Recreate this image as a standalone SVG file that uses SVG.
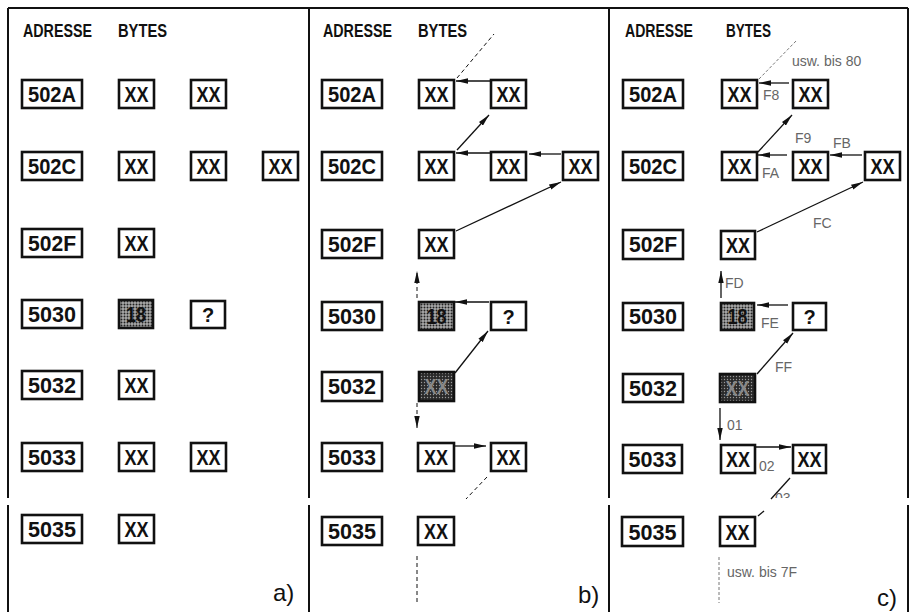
<svg xmlns="http://www.w3.org/2000/svg" width="914" height="612" viewBox="0 0 914 612">
<style>
.frame{stroke:#111;stroke-width:2;fill:none}
.box{fill:#fff;stroke:#111;stroke-width:2.6}
.t{font-family:"Liberation Sans",Arial,sans-serif;font-size:22px;font-weight:bold;fill:#111;text-anchor:middle}
.h{font-family:"Liberation Sans",Arial,sans-serif;font-size:18px;font-weight:bold;fill:#111}
.lab{font-family:"Liberation Sans",Arial,sans-serif;font-size:14px;fill:#666}
.pl{font-family:"Liberation Sans",Arial,sans-serif;font-size:24px;fill:#111}
.c{stroke:#111;stroke-width:1.3;fill:none}
.d{stroke:#111;stroke-width:1;fill:none;stroke-dasharray:4 3}
.dg{stroke:#777;stroke-width:1;fill:none;stroke-dasharray:3 2}
.a{marker-end:url(#ah)}
.lt{fill:url(#lt)}
.dk{fill:url(#dk)}
</style>
<defs>
<marker id="ah" markerWidth="13" markerHeight="6" refX="12" refY="3" orient="auto" markerUnits="userSpaceOnUse">
<path d="M0,0.3 L12,3 L0,5.7 z" fill="#111"/>
</marker>
<pattern id="lt" width="3" height="3" patternUnits="userSpaceOnUse">
<rect width="3" height="3" fill="#aaa"/>
<circle cx="1.5" cy="1.5" r="1" fill="#222"/>
</pattern>
<pattern id="dk" width="3" height="3" patternUnits="userSpaceOnUse">
<rect width="3" height="3" fill="#2a2a2a"/>
<circle cx="1.5" cy="1.5" r="0.7" fill="#999"/>
</pattern>
<clipPath id="cut03"><rect x="760" y="485" width="60" height="13"/></clipPath>
</defs>

<g id="frame">
<line class="frame" x1="8" y1="8" x2="908" y2="8"/>
<line class="frame" x1="8" y1="8" x2="8" y2="498"/><line class="frame" x1="8" y1="505" x2="8" y2="612"/>
<line class="frame" x1="309" y1="8" x2="309" y2="498"/><line class="frame" x1="309" y1="505" x2="309" y2="612"/>
<line class="frame" x1="609" y1="8" x2="609" y2="498"/><line class="frame" x1="609" y1="505" x2="609" y2="612"/>
<line class="frame" x1="908" y1="8" x2="908" y2="498"/><line class="frame" x1="908" y1="505" x2="908" y2="612"/>
</g>

<!-- Panel a -->
<g id="panel-a">
<text class="h" x="23" y="37" textLength="69" lengthAdjust="spacingAndGlyphs">ADRESSE</text>
<text class="h" x="118" y="37" textLength="49" lengthAdjust="spacingAndGlyphs">BYTES</text>
<g id="a-502A"><rect class="box" x="22" y="80" width="60" height="28"/><text class="t" x="52" y="102" textLength="48" lengthAdjust="spacingAndGlyphs">502A</text></g>
<g id="a-502A-b1"><rect class="box" x="119" y="80" width="35" height="28"/><text class="t" x="136.5" y="102" textLength="24" lengthAdjust="spacingAndGlyphs">XX</text></g>
<g id="a-502A-b2"><rect class="box" x="191" y="80" width="35" height="28"/><text class="t" x="208.5" y="102" textLength="24" lengthAdjust="spacingAndGlyphs">XX</text></g>
<g id="a-502C"><rect class="box" x="22" y="152" width="60" height="28"/><text class="t" x="52" y="174" textLength="48" lengthAdjust="spacingAndGlyphs">502C</text></g>
<g id="a-502C-b1"><rect class="box" x="119" y="152" width="35" height="28"/><text class="t" x="136.5" y="174" textLength="24" lengthAdjust="spacingAndGlyphs">XX</text></g>
<g id="a-502C-b2"><rect class="box" x="191" y="152" width="35" height="28"/><text class="t" x="208.5" y="174" textLength="24" lengthAdjust="spacingAndGlyphs">XX</text></g>
<g id="a-502C-b3"><rect class="box" x="263" y="152" width="35" height="28"/><text class="t" x="280.5" y="174" textLength="24" lengthAdjust="spacingAndGlyphs">XX</text></g>
<g id="a-502F"><rect class="box" x="22" y="229" width="60" height="28"/><text class="t" x="52" y="251" textLength="48" lengthAdjust="spacingAndGlyphs">502F</text></g>
<g id="a-502F-b1"><rect class="box" x="119" y="229" width="35" height="28"/><text class="t" x="136.5" y="251" textLength="24" lengthAdjust="spacingAndGlyphs">XX</text></g>
<g id="a-5030"><rect class="box" x="22" y="300" width="60" height="28"/><text class="t" x="52" y="322" textLength="48" lengthAdjust="spacingAndGlyphs">5030</text></g>
<g id="a-5030-b1"><rect class="box lt" x="119" y="300" width="34" height="28"/><text class="t" x="136" y="322" textLength="20" lengthAdjust="spacingAndGlyphs">18</text></g>
<g id="a-5030-b2"><rect class="box" x="191" y="301" width="34" height="27"/><text class="t" x="208" y="322" style="font-size:20px">?</text></g>
<g id="a-5032"><rect class="box" x="22" y="371" width="60" height="28"/><text class="t" x="52" y="393" textLength="48" lengthAdjust="spacingAndGlyphs">5032</text></g>
<g id="a-5032-b1"><rect class="box" x="119" y="371" width="35" height="28"/><text class="t" x="136.5" y="393" textLength="24" lengthAdjust="spacingAndGlyphs">XX</text></g>
<g id="a-5033"><rect class="box" x="22" y="443" width="60" height="28"/><text class="t" x="52" y="465" textLength="48" lengthAdjust="spacingAndGlyphs">5033</text></g>
<g id="a-5033-b1"><rect class="box" x="119" y="443" width="35" height="28"/><text class="t" x="136.5" y="465" textLength="24" lengthAdjust="spacingAndGlyphs">XX</text></g>
<g id="a-5033-b2"><rect class="box" x="191" y="443" width="35" height="28"/><text class="t" x="208.5" y="465" textLength="24" lengthAdjust="spacingAndGlyphs">XX</text></g>
<g id="a-5035"><rect class="box" x="22" y="515" width="60" height="28"/><text class="t" x="52" y="537" textLength="48" lengthAdjust="spacingAndGlyphs">5035</text></g>
<g id="a-5035-b1"><rect class="box" x="119" y="515" width="35" height="28"/><text class="t" x="136.5" y="537" textLength="24" lengthAdjust="spacingAndGlyphs">XX</text></g>
<text class="pl" x="273" y="601">a)</text>
</g>

<!-- Panel b -->
<g id="panel-b">
<text class="h" x="323" y="37" textLength="69" lengthAdjust="spacingAndGlyphs">ADRESSE</text>
<text class="h" x="418" y="37" textLength="49" lengthAdjust="spacingAndGlyphs">BYTES</text>
<g id="b-502A"><rect class="box" x="322" y="80" width="60" height="28"/><text class="t" x="352" y="102" textLength="48" lengthAdjust="spacingAndGlyphs">502A</text></g>
<g id="b-502A-b1"><rect class="box" x="419" y="80" width="35" height="28"/><text class="t" x="436.5" y="102" textLength="24" lengthAdjust="spacingAndGlyphs">XX</text></g>
<g id="b-502A-b2"><rect class="box" x="491" y="80" width="35" height="28"/><text class="t" x="508.5" y="102" textLength="24" lengthAdjust="spacingAndGlyphs">XX</text></g>
<g id="b-502C"><rect class="box" x="322" y="152" width="60" height="28"/><text class="t" x="352" y="174" textLength="48" lengthAdjust="spacingAndGlyphs">502C</text></g>
<g id="b-502C-b1"><rect class="box" x="419" y="152" width="35" height="28"/><text class="t" x="436.5" y="174" textLength="24" lengthAdjust="spacingAndGlyphs">XX</text></g>
<g id="b-502C-b2"><rect class="box" x="491" y="152" width="35" height="28"/><text class="t" x="508.5" y="174" textLength="24" lengthAdjust="spacingAndGlyphs">XX</text></g>
<g id="b-502C-b3"><rect class="box" x="563" y="152" width="35" height="28"/><text class="t" x="580.5" y="174" textLength="24" lengthAdjust="spacingAndGlyphs">XX</text></g>
<g id="b-502F"><rect class="box" x="322" y="230" width="60" height="28"/><text class="t" x="352" y="252" textLength="48" lengthAdjust="spacingAndGlyphs">502F</text></g>
<g id="b-502F-b1"><rect class="box" x="419" y="230" width="35" height="28"/><text class="t" x="436.5" y="252" textLength="24" lengthAdjust="spacingAndGlyphs">XX</text></g>
<g id="b-5030"><rect class="box" x="322" y="302" width="60" height="28"/><text class="t" x="352" y="324" textLength="48" lengthAdjust="spacingAndGlyphs">5030</text></g>
<g id="b-5030-b1"><rect class="box lt" x="419" y="302" width="35" height="28"/><text class="t" x="436.5" y="324" textLength="20" lengthAdjust="spacingAndGlyphs">18</text></g>
<g id="b-5030-b2"><rect class="box" x="491" y="302" width="35" height="28"/><text class="t" x="508.5" y="324" style="font-size:20px">?</text></g>
<g id="b-5032"><rect class="box" x="322" y="372" width="60" height="29"/><text class="t" x="352" y="394" textLength="48" lengthAdjust="spacingAndGlyphs">5032</text></g>
<g id="b-5032-b1"><rect class="box dk" x="419" y="372" width="35" height="29"/><text class="t" x="436.5" y="394" textLength="24" lengthAdjust="spacingAndGlyphs" style="fill:#888">XX</text></g>
<g id="b-5033"><rect class="box" x="322" y="443" width="60" height="28"/><text class="t" x="352" y="465" textLength="48" lengthAdjust="spacingAndGlyphs">5033</text></g>
<g id="b-5033-b1"><rect class="box" x="418" y="443" width="36" height="28"/><text class="t" x="436" y="465" textLength="24" lengthAdjust="spacingAndGlyphs">XX</text></g>
<g id="b-5033-b2"><rect class="box" x="491" y="443" width="35" height="28"/><text class="t" x="508.5" y="465" textLength="24" lengthAdjust="spacingAndGlyphs">XX</text></g>
<g id="b-5035"><rect class="box" x="322" y="517" width="60" height="28"/><text class="t" x="352" y="539" textLength="48" lengthAdjust="spacingAndGlyphs">5035</text></g>
<g id="b-5035-b1"><rect class="box" x="418" y="517" width="36" height="28"/><text class="t" x="436" y="539" textLength="24" lengthAdjust="spacingAndGlyphs">XX</text></g>
<text class="pl" x="578" y="603">b)</text>
</g>

<!-- Panel c -->
<g id="panel-c">
<text class="h" x="625" y="37" textLength="68" lengthAdjust="spacingAndGlyphs">ADRESSE</text>
<text class="h" x="726" y="37" textLength="45" lengthAdjust="spacingAndGlyphs">BYTES</text>
<g id="c-502A"><rect class="box" x="623" y="80" width="60" height="28"/><text class="t" x="653" y="102" textLength="48" lengthAdjust="spacingAndGlyphs">502A</text></g>
<g id="c-502A-b1"><rect class="box" x="722" y="80" width="35" height="28"/><text class="t" x="739.5" y="102" textLength="24" lengthAdjust="spacingAndGlyphs">XX</text></g>
<g id="c-502A-b2"><rect class="box" x="793" y="80" width="35" height="28"/><text class="t" x="810.5" y="102" textLength="24" lengthAdjust="spacingAndGlyphs">XX</text></g>
<g id="c-502C"><rect class="box" x="623" y="152" width="60" height="28"/><text class="t" x="653" y="174" textLength="48" lengthAdjust="spacingAndGlyphs">502C</text></g>
<g id="c-502C-b1"><rect class="box" x="722" y="152" width="35" height="28"/><text class="t" x="739.5" y="174" textLength="24" lengthAdjust="spacingAndGlyphs">XX</text></g>
<g id="c-502C-b2"><rect class="box" x="793" y="152" width="35" height="28"/><text class="t" x="810.5" y="174" textLength="24" lengthAdjust="spacingAndGlyphs">XX</text></g>
<g id="c-502C-b3"><rect class="box" x="865" y="152" width="35" height="28"/><text class="t" x="882.5" y="174" textLength="24" lengthAdjust="spacingAndGlyphs">XX</text></g>
<g id="c-502F"><rect class="box" x="623" y="230" width="60" height="29"/><text class="t" x="653" y="252" textLength="48" lengthAdjust="spacingAndGlyphs">502F</text></g>
<g id="c-502F-b1"><rect class="box" x="721" y="231" width="34" height="28"/><text class="t" x="738" y="253" textLength="24" lengthAdjust="spacingAndGlyphs">XX</text></g>
<g id="c-5030"><rect class="box" x="623" y="303" width="60" height="27"/><text class="t" x="653" y="324" textLength="48" lengthAdjust="spacingAndGlyphs">5030</text></g>
<g id="c-5030-b1"><rect class="box lt" x="721" y="303" width="33" height="27"/><text class="t" x="737.5" y="324" textLength="20" lengthAdjust="spacingAndGlyphs">18</text></g>
<g id="c-5030-b2"><rect class="box" x="793" y="303" width="33" height="27"/><text class="t" x="809.5" y="324" style="font-size:20px">?</text></g>
<g id="c-5032"><rect class="box" x="623" y="374" width="60" height="28"/><text class="t" x="653" y="396" textLength="48" lengthAdjust="spacingAndGlyphs">5032</text></g>
<g id="c-5032-b1"><rect class="box dk" x="720" y="374" width="35" height="28"/><text class="t" x="737.5" y="396" textLength="24" lengthAdjust="spacingAndGlyphs" style="fill:#888">XX</text></g>
<g id="c-5033"><rect class="box" x="623" y="445" width="59" height="28"/><text class="t" x="652.5" y="467" textLength="48" lengthAdjust="spacingAndGlyphs">5033</text></g>
<g id="c-5033-b1"><rect class="box" x="721" y="445" width="34" height="28"/><text class="t" x="738" y="467" textLength="24" lengthAdjust="spacingAndGlyphs">XX</text></g>
<g id="c-5033-b2"><rect class="box" x="793" y="445" width="33" height="28"/><text class="t" x="809.5" y="467" textLength="24" lengthAdjust="spacingAndGlyphs">XX</text></g>
<g id="c-5035"><rect class="box" x="622" y="517" width="61" height="29"/><text class="t" x="652.5" y="540" textLength="48" lengthAdjust="spacingAndGlyphs">5035</text></g>
<g id="c-5035-b1"><rect class="box" x="720" y="517" width="35" height="29"/><text class="t" x="737.5" y="540" textLength="24" lengthAdjust="spacingAndGlyphs">XX</text></g>
<text class="pl" x="877" y="606">c)</text>
</g>

<g id="connectors">
<!-- panel b -->
<line class="d" x1="457" y1="78" x2="494" y2="34"/>
<line class="c a" x1="490" y1="81" x2="456" y2="81"/>
<line class="c a" x1="457" y1="150" x2="489" y2="115"/>
<line class="c a" x1="490" y1="153" x2="456" y2="153"/>
<line class="c a" x1="561" y1="154" x2="529" y2="154"/>
<line class="c a" x1="456" y1="231" x2="561" y2="182"/>
<line class="d a" x1="417" y1="298" x2="417" y2="271"/>
<line class="c a" x1="489" y1="302" x2="455" y2="302"/>
<line class="c a" x1="455" y1="373" x2="488" y2="331"/>
<line class="d a" x1="417" y1="403" x2="417" y2="428"/>
<line class="c a" x1="455" y1="446" x2="486" y2="446"/>
<line class="d" x1="487" y1="477" x2="466" y2="499"/>
<line class="d" x1="417" y1="556" x2="417" y2="604"/>
<!-- panel c -->
<line class="dg" x1="759" y1="79" x2="797" y2="40"/>
<line class="c a" x1="789" y1="83" x2="759" y2="83"/>
<line class="c a" x1="758" y1="152" x2="792" y2="115"/>
<line class="c a" x1="787" y1="155" x2="758" y2="155"/>
<line class="c a" x1="862" y1="155" x2="830" y2="155"/>
<line class="c a" x1="757" y1="232" x2="863" y2="182"/>
<line class="c a" x1="721" y1="298" x2="721" y2="271"/>
<line class="c a" x1="788" y1="305" x2="757" y2="305"/>
<line class="c a" x1="757" y1="374" x2="793" y2="333"/>
<line class="c a" x1="720" y1="408" x2="720" y2="440"/>
<line class="c a" x1="756" y1="447" x2="791" y2="447"/>
<line class="c" x1="790" y1="478" x2="771" y2="499"/>
<line class="c" x1="758" y1="516" x2="764" y2="511"/>
<line class="dg" x1="719" y1="557" x2="719" y2="603"/>
</g>

<g id="labels">
<text class="lab" x="792" y="66">usw. bis 80</text>
<text class="lab" x="763" y="100">F8</text>
<text class="lab" x="795" y="143">F9</text>
<text class="lab" x="762" y="178">FA</text>
<text class="lab" x="833" y="148">FB</text>
<text class="lab" x="813" y="228">FC</text>
<text class="lab" x="725" y="288">FD</text>
<text class="lab" x="761" y="328">FE</text>
<text class="lab" x="775" y="372">FF</text>
<text class="lab" x="727" y="430">01</text>
<text class="lab" x="759" y="471">02</text>
<text class="lab" x="775" y="503" clip-path="url(#cut03)">03</text>
<text class="lab" x="727" y="577">usw. bis 7F</text>
</g>
</svg>
